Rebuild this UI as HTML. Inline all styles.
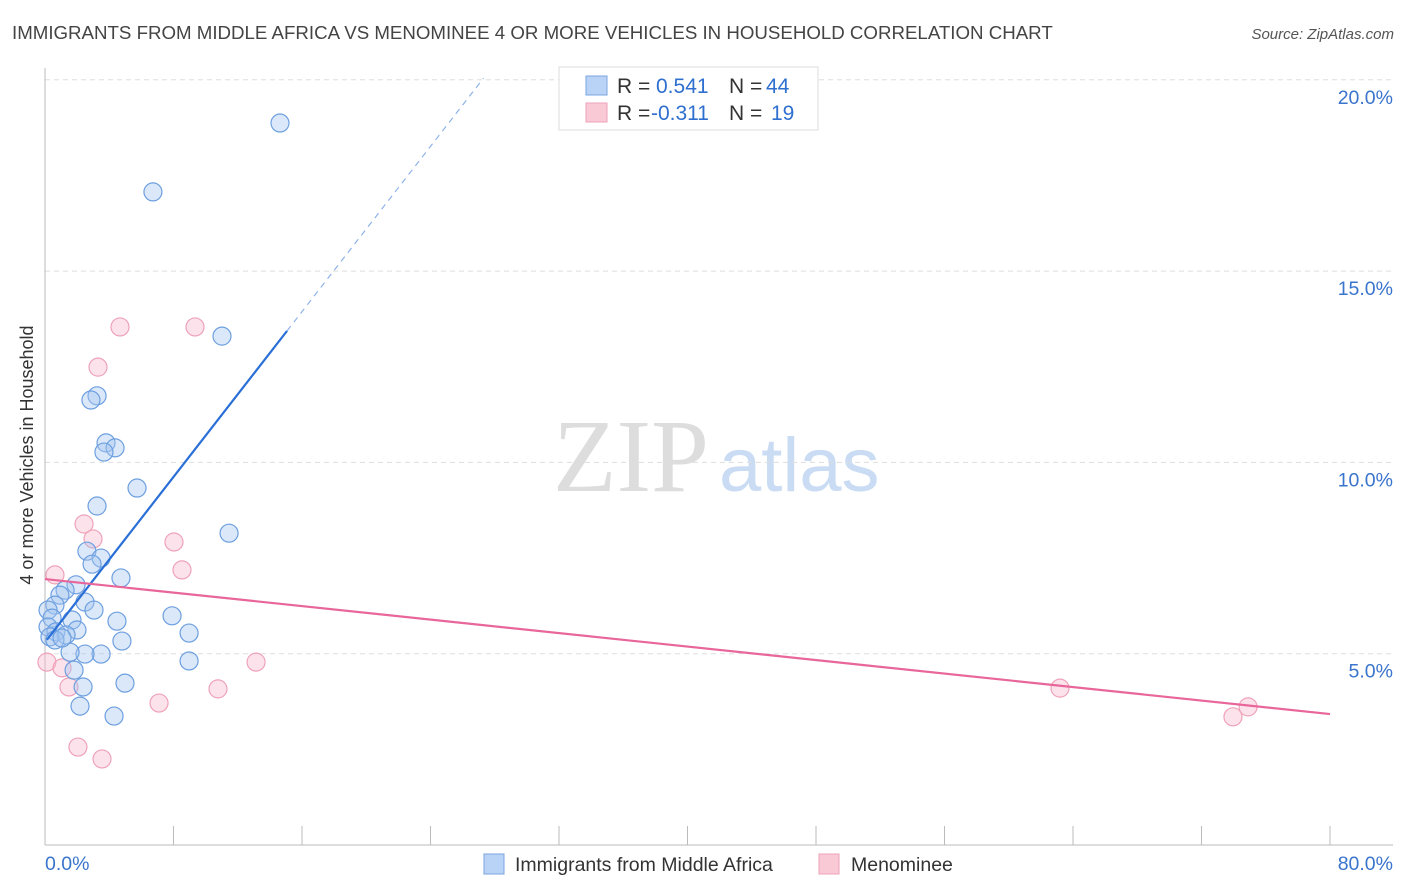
<!DOCTYPE html>
<html><head><meta charset="utf-8"><style>
body{margin:0;background:#fff;font-family:"Liberation Sans",sans-serif;}
svg{display:block}
</style></head><body>
<svg id="chart" width="1406" height="892" viewBox="0 0 1406 892" xmlns="http://www.w3.org/2000/svg">
<text x="12" y="39" font-size="18.7" fill="#444">IMMIGRANTS FROM MIDDLE AFRICA VS MENOMINEE 4 OR MORE VEHICLES IN HOUSEHOLD CORRELATION CHART</text>
<text x="1394" y="39" font-size="15" fill="#555" font-style="italic" text-anchor="end">Source: ZipAtlas.com</text>
<g>
<text x="553" y="491" font-size="104" fill="#ddd" font-family="Liberation Serif,serif">ZIP</text>
<text x="719" y="491" font-size="76" fill="#c9dcf3">atlas</text>
</g>
<g id="grid"></g>
<g id="axes"></g>
<g id="marks"></g>
<text transform="translate(33,455) rotate(-90)" font-size="18" fill="#333" text-anchor="middle">4 or more Vehicles in Household</text>
<g>
<rect x="559" y="67" width="259" height="63" fill="#fff" stroke="#ddd"/>
<rect x="586" y="76" width="21" height="19" fill="#b8d3f5" stroke="#7aa6e0"/>
<rect x="586" y="103" width="21" height="19" fill="#f9c9d6" stroke="#eda3b9"/>
<text x="617" y="93" font-size="21" fill="#333">R = <tspan fill="#2f6fcf" x="656">0.541</tspan><tspan x="729">N = </tspan><tspan fill="#2f6fcf" x="766">44</tspan></text>
<text x="617" y="120" font-size="21" fill="#333">R = <tspan fill="#2f6fcf" x="651">-0.311</tspan><tspan x="729">N = </tspan><tspan fill="#2f6fcf" x="771">19</tspan></text>
</g>
<g>
<rect x="484" y="854" width="20" height="20" fill="#b8d3f5" stroke="#7aa6e0"/>
<text x="515" y="871" font-size="19.5" fill="#333">Immigrants from Middle Africa</text>
<rect x="819" y="854" width="20" height="20" fill="#f9c9d6" stroke="#eda3b9"/>
<text x="851" y="871" font-size="19.5" fill="#333">Menominee</text>
</g>
</svg>
<script>
const blueX=[14.63,6.72,11.02,3.24,2.86,3.80,4.36,3.67,5.73,3.24,11.46,2.61,3.49,2.93,4.73,1.93,1.25,0.93,2.49,3.05,0.62,0.19,0.44,4.48,7.91,1.68,0.19,1.99,0.68,1.31,0.31,8.97,4.79,0.62,3.49,2.49,1.56,8.97,1.81,4.98,2.37,2.18,4.30,1.06];
const blueY=[18.87,17.07,13.30,11.74,11.63,10.51,10.38,10.27,9.33,8.86,8.15,7.68,7.50,7.34,6.98,6.80,6.66,6.53,6.35,6.14,6.27,6.14,5.93,5.85,5.99,5.88,5.70,5.62,5.57,5.49,5.44,5.54,5.33,5.36,4.99,4.99,5.04,4.81,4.57,4.23,4.13,3.63,3.37,5.41];
const pinkX=[0.12,0.62,2.43,2.99,4.67,9.34,3.30,8.03,8.53,13.14,1.06,1.49,10.77,7.10,2.05,3.55,63.19,73.96,74.90];
const pinkY=[4.78,7.06,8.39,8.00,13.54,13.54,12.49,7.92,7.19,4.78,4.63,4.13,4.08,3.71,2.56,2.25,4.10,3.35,3.61];
const blueTrend=[5.30,0.54]; // intercept, slope
const pinkTrend=[6.95,-0.0441];
const xTickVals=[0,8,16,24,32,40,48,56,64,72,80];
const yTickVals=[5,10,15,20];
const yTickLabels=["5.0%","10.0%","15.0%","20.0%"];
const xEndLabels=["0.0%","80.0%"];

const NS="http://www.w3.org/2000/svg";
const sx=v=>45+v/80*1285;
const sy=v=>845-v/5*191.3;
function mk(tag,attrs,parent){const e=document.createElementNS(NS,tag);for(const k in attrs)e.setAttribute(k,attrs[k]);document.getElementById(parent).appendChild(e);return e;}

yTickVals.forEach((v,i)=>{
  const l=mk('line',{x1:45,x2:1393,y1:sy(v),y2:sy(v),stroke:'#ddd','stroke-dasharray':'5,4'},'grid');
  
  
  const t=mk('text',{x:1393,y:sy(v)+24,'font-size':19.5,fill:'#3a74cc','text-anchor':'end'},'axes');
  t.textContent=yTickLabels[i];
  
  
});
const ya=mk('line',{x1:45,x2:45,y1:68,y2:845,stroke:'#bbb'},'axes');


const xa=mk('line',{x1:45,x2:1393,y1:845,y2:845,stroke:'#bbb'},'axes');


xTickVals.forEach(v=>{
  const t=mk('line',{x1:sx(v),x2:sx(v),y1:826,y2:845,stroke:'#bbb'},'axes');
  
  
});
[[0,'start',45],[80,'end',1393]].forEach((d,i)=>{
  const t=mk('text',{x:d[2],y:870,'font-size':19.5,fill:'#3a74cc','text-anchor':d[1]},'axes');
  t.textContent=xEndLabels[i];
  
  
});

pinkX.forEach((x,i)=>{
  const c=mk('circle',{cx:sx(x),cy:sy(pinkY[i]),r:9,fill:'rgba(248,185,205,0.4)',stroke:'#efa2b9','stroke-width':1.2},'marks');
  
  
});
blueX.forEach((x,i)=>{
  const c=mk('circle',{cx:sx(x),cy:sy(blueY[i]),r:9,fill:'rgba(165,198,240,0.4)',stroke:'#6d9fe0','stroke-width':1.2},'marks');
  
  
});
const bx0=0.12,bx1=15.07,bx2=27.3;
const bl=mk('line',{x1:sx(bx0),y1:sy(blueTrend[0]+blueTrend[1]*bx0),x2:sx(bx1),y2:sy(blueTrend[0]+blueTrend[1]*bx1),stroke:'#2a6fd6','stroke-width':2.2},'marks');


const bd=mk('line',{x1:sx(bx1),y1:sy(blueTrend[0]+blueTrend[1]*bx1),x2:sx(bx2),y2:sy(blueTrend[0]+blueTrend[1]*bx2),stroke:'#8fb3e8','stroke-width':1.2,'stroke-dasharray':'6,5'},'marks');


const pl=mk('line',{x1:sx(0),y1:sy(pinkTrend[0]),x2:sx(80),y2:sy(pinkTrend[0]+pinkTrend[1]*80),stroke:'#e8669a','stroke-width':2.2},'marks');


</script>
</body></html>
